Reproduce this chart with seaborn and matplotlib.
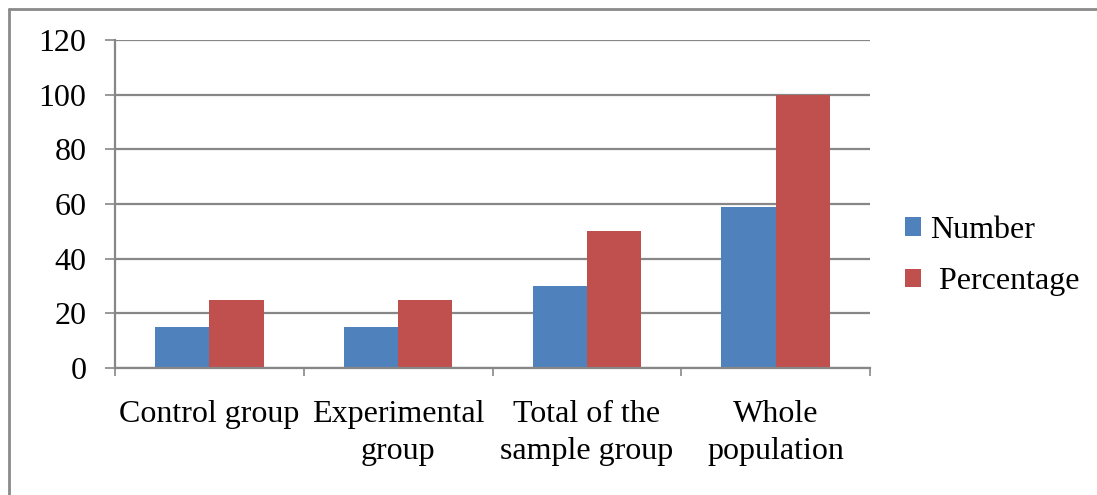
import matplotlib
matplotlib.use("Agg")
import matplotlib.pyplot as plt
from matplotlib.lines import Line2D
from matplotlib.patches import Patch
from matplotlib.ticker import FixedLocator
import pandas as pd
import seaborn as sns

categories = ["Control group", "Experimental\ngroup", "Total of the\nsample group", "Whole\npopulation"]
series_names = ["Number", "Percentage"]
number_values = [15, 15, 30, 59]
percentage_values = [25, 25, 50, 100]
y_ticks = [0, 20, 40, 60, 80, 100, 120]

colors = {"Number": "#4F81BD", "Percentage": "#C0504D"}
grid_gray = "#878787"

sns.set_theme(style="white")
plt.rcParams["font.family"] = ["Liberation Serif", "DejaVu Serif"]
plt.rcParams["text.color"] = "black"

df = pd.DataFrame({
    "category": categories * 2,
    "series": [series_names[0]] * len(categories) + [series_names[1]] * len(categories),
    "value": number_values + percentage_values,
})

fig = plt.figure(figsize=(10.97, 4.95), dpi=100)
ax = fig.add_axes([115 / 1097, 1 - 368 / 495, (870 - 115) / 1097, (368 - 40) / 495])

sns.barplot(data=df, x="category", y="value", hue="series", order=categories,
            hue_order=series_names, palette=colors, width=0.575, saturation=1,
            edgecolor="none", linewidth=0, legend=False, ax=ax)

ax.set_xlim(-0.5, len(categories) - 0.5)
ax.set_ylim(0, 120)
ax.set_yticks(y_ticks)
ax.set_xlabel("")
ax.set_ylabel("")

# horizontal gridlines behind the bars
ax.set_axisbelow(True)
ax.yaxis.grid(True, color=grid_gray, linewidth=1.6)
ax.xaxis.grid(False)

for side in ["top", "right"]:
    ax.spines[side].set_visible(False)
for side in ["left", "bottom"]:
    ax.spines[side].set_color(grid_gray)
    ax.spines[side].set_linewidth(1.6)

fs = 23
ax.tick_params(axis="y", which="major", length=7.2, width=1.2, color=grid_gray,
               direction="out", pad=13.5, labelsize=fs, labelcolor="black", left=True)
ax.tick_params(axis="x", which="major", length=0, pad=23, labelsize=fs, labelcolor="black")
# category boundary ticks
ax.xaxis.set_minor_locator(FixedLocator([i - 0.5 for i in range(len(categories) + 1)]))
ax.tick_params(axis="x", which="minor", length=6, width=1.2, color=grid_gray,
               direction="out", bottom=True)
for lbl in ax.get_xticklabels():
    lbl.set_horizontalalignment("center")
    lbl.set_linespacing(1.38)

handles = [Patch(facecolor=colors[s], edgecolor="none") for s in series_names]
fig.legend(handles, ["Number", " Percentage"], loc="center left",
           bbox_to_anchor=(905 / 1097, 1 - 256 / 495), frameon=False, fontsize=fs,
           labelcolor="black", handlelength=0.5, handleheight=0.5, handletextpad=0.3,
           labelspacing=0.7, borderaxespad=0, borderpad=0)

# chart frame (top and left edges)
fig.add_artist(Line2D([9 / 1097, 1.0], [1 - 9 / 495, 1 - 9 / 495], transform=fig.transFigure,
                      color="#8a8a8a", linewidth=2))
fig.add_artist(Line2D([9 / 1097, 9 / 1097], [0.0, 1 - 9 / 495], transform=fig.transFigure,
                      color="#8a8a8a", linewidth=2))

fig.savefig("out.png", dpi=100)
